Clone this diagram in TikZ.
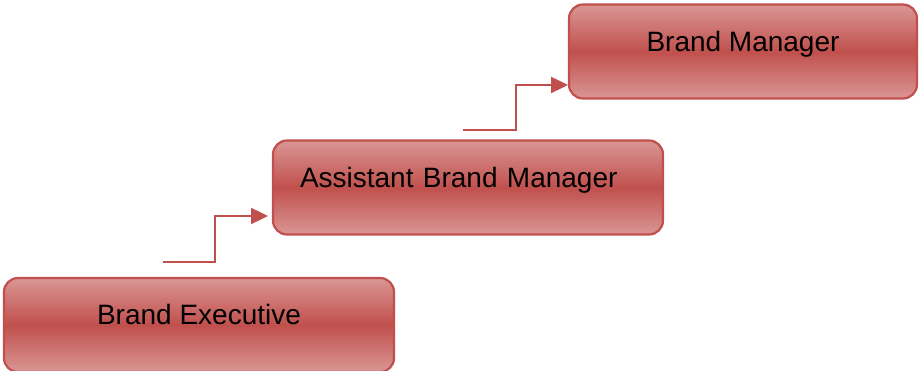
\documentclass[tikz,border=0pt]{standalone}
\usepackage{fontspec}
\setmainfont{Liberation Sans}
\usetikzlibrary{arrows.meta}
\definecolor{rankdark}{HTML}{C0504D}
\definecolor{ranklight}{HTML}{DA9694}
\definecolor{rankline}{HTML}{C0504D}

\begin{document}
\begin{tikzpicture}[
    x=1pt, y=-1pt,
    rank/.style={rectangle, draw=rankline, line width=2.2pt, rounded corners=14pt,
        top color=ranklight, bottom color=ranklight, middle color=rankdark,
        minimum height=94pt, text height=24pt, text depth=24pt,
        font=\fontsize{28}{32}\selectfont, text=black},
    promo/.style={draw=rankline, line width=2.4pt,
        -{Triangle[length=17pt, width=16pt]}}
]
\useasboundingbox (0,0) rectangle (921,371);

\node (B1) [rank, minimum width=390pt] at (199,325) {Brand Executive};
\node (B2) [rank, minimum width=390pt, inner xsep=27pt, text width=336pt,
    align=left] at (468,187.5) {Assistant Brand Manager};
\node (B3) [rank, minimum width=348pt] at (743,51.5) {Brand Manager};

% steps up the ladder
\coordinate (s1) at (163,262);
\coordinate (t1) at (268,216);
\coordinate (s2) at (463,130);
\coordinate (t2) at (568,85);
\draw [promo] (s1) -- ++(52,0) |- (t1);
\draw [promo] (s2) -- ++(53,0) |- (t2);
\end{tikzpicture}
\end{document}
